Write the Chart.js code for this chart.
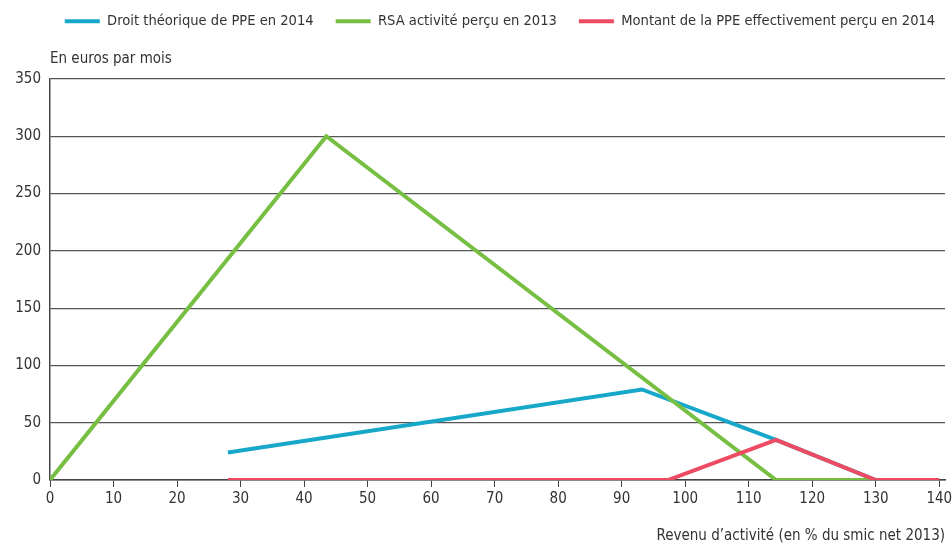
<!DOCTYPE html>
<html lang="fr">
<head>
<meta charset="utf-8">
<title>PPE et RSA activité</title>
<script src="https://cdn.jsdelivr.net/npm/chart.js@4.4.1/dist/chart.umd.min.js"></script>
<style>
    html, body { margin: 0; padding: 0; background: #fff; }
    #wrap { width: 952px; height: 545px; }
</style>
</head>
<body>
<div id="wrap"><canvas id="ppeChart"></canvas></div>
<script>
// Revenu d'activité (% du smic net 2013) -> euros par mois
const SERIES_LABELS = [
    'Droit théorique de PPE en 2014',
    'RSA activité perçu en 2013',
    'Montant de la PPE effectivement perçu en 2014'
];

const droitX = [28, 93.2, 114.3, 130];
const droitY = [24, 79, 35, 0];

const rsaX = [0, 43.5, 114.3, 130];
const rsaY = [0, 300, 0, 0];

const montantX = [28, 97.3, 114.3, 130, 140];
const montantY = [0, 0, 35, 0, 0];

const X_TICKS = [0, 10, 20, 30, 40, 50, 60, 70, 80, 90, 100, 110, 120, 130, 140];
const Y_TICKS = [0, 50, 100, 150, 200, 250, 300, 350];

const FONT = '"DejaVu Sans Condensed", "Roboto", sans-serif';
const TEXT = '#333333';

function toPoints(xs, ys) {
    return xs.map((x, i) => ({ x, y: ys[i] }));
}

// legend box is taller so the unit caption fits under it; its items are nudged up
const legendSpace = {
    id: 'legendSpace',
    beforeInit(chart) {
        const legend = chart.legend;
        const fit = legend.fit;
        const draw = legend.draw;
        legend.fit = function () {
            fit.call(this);
            this.height = 79;
        };
        legend.draw = function () {
            const c = this.ctx;
            c.save();
            c.translate(24, -8);
            draw.call(this);
            c.restore();
        };
    }
};

const unitCaption = {
    id: 'unitCaption',
    afterDraw(chart) {
        const { ctx, chartArea } = chart;
        ctx.save();
        ctx.font = '15px ' + FONT;
        ctx.fillStyle = TEXT;
        ctx.textAlign = 'left';
        ctx.textBaseline = 'middle';
        ctx.fillText('En euros par mois', chartArea.left, chartArea.top - 20);
        ctx.restore();
    }
};

const ctx = document.getElementById('ppeChart').getContext('2d');

new Chart(ctx, {
    type: 'line',
    data: {
        datasets: [
            {
                label: SERIES_LABELS[0],
                data: toPoints(droitX, droitY),
                borderColor: '#17a8c9',
                backgroundColor: '#17a8c9',
                order: 3
            },
            {
                label: SERIES_LABELS[1],
                data: toPoints(rsaX, rsaY),
                borderColor: '#77bf43',
                backgroundColor: '#77bf43',
                order: 2
            },
            {
                label: SERIES_LABELS[2],
                data: toPoints(montantX, montantY),
                borderColor: '#ee4a62',
                backgroundColor: '#ee4a62',
                order: 1
            }
        ]
    },
    options: {
        responsive: true,
        maintainAspectRatio: false,
        animation: false,
        layout: { padding: 0 },
        elements: {
            line: { borderWidth: 4, tension: 0, fill: false, borderCapStyle: 'butt', borderJoinStyle: 'miter' },
            point: { radius: 0, hoverRadius: 0 }
        },
        plugins: {
            tooltip: { enabled: false },
            legend: {
                position: 'top',
                align: 'center',
                labels: {
                    color: TEXT,
                    font: { family: FONT, size: 14.6 },
                    boxWidth: 35,
                    boxHeight: 4,
                    padding: 22,
                    sort: (a, b) => a.datasetIndex - b.datasetIndex,
                    generateLabels(chart) {
                        return Chart.defaults.plugins.legend.labels.generateLabels(chart)
                            .map(item => ({ ...item, lineWidth: 0 }));
                    }
                }
            }
        },
        scales: {
            x: {
                type: 'linear',
                min: 0,
                max: 140.9,
                afterBuildTicks(scale) {
                    scale.ticks = X_TICKS.map(v => ({ value: v }));
                },
                afterFit(scale) {
                    scale.height = 65;
                    scale.paddingRight = 7;
                },
                grid: {
                    drawOnChartArea: false,
                    drawTicks: true,
                    tickLength: 7,
                    color: '#444444'
                },
                border: { display: true, color: '#444444', width: 1.5 },
                ticks: {
                    color: TEXT,
                    font: { family: FONT, size: 15 },
                    padding: 3,
                    maxRotation: 0
                },
                title: {
                    display: true,
                    text: 'Revenu d\u2019activité (en % du smic net 2013)',
                    align: 'end',
                    color: TEXT,
                    font: { family: FONT, size: 15 },
                    padding: { top: 20, bottom: 0 }
                }
            },
            y: {
                min: 0,
                max: 350,
                afterBuildTicks(scale) {
                    scale.ticks = Y_TICKS.map(v => ({ value: v }));
                },
                afterFit(scale) { scale.width = 50; },
                grid: {
                    drawTicks: false,
                    color: '#555555',
                    lineWidth: 1.2
                },
                border: { display: true, color: '#444444', width: 1.5 },
                ticks: {
                    color: TEXT,
                    font: { family: FONT, size: 15 },
                    padding: 9
                }
            }
        }
    },
    plugins: [legendSpace, unitCaption]
});
</script>
</body>
</html>
